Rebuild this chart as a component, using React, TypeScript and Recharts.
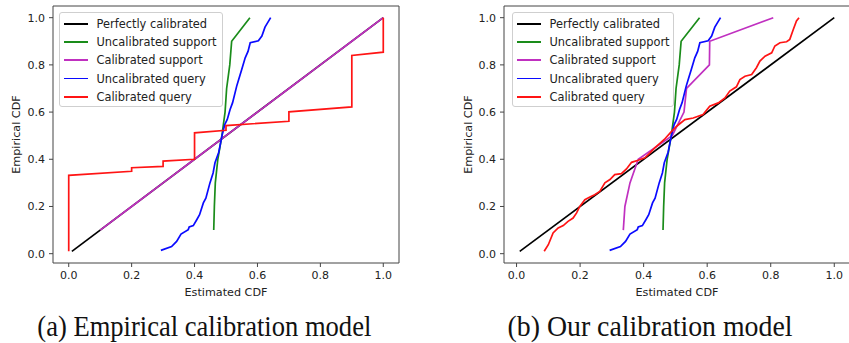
import React from 'react';
import { LineChart, Line, XAxis, YAxis, ReferenceLine } from 'recharts';

// ---------- data ----------
const tickValues = [0, 0.2, 0.4, 0.6, 0.8, 1.0];

const perfectX = [0.01, 1.0];
const perfectY = [0.01, 1.0];

const uncalSupportX = [0.461, 0.463, 0.466, 0.474, 0.487, 0.497, 0.502, 0.512, 0.518, 0.576];
const uncalSupportY = [0.1, 0.2, 0.3, 0.4, 0.5, 0.6, 0.7, 0.8, 0.9, 1.0];

const uncalQueryX = [0.293, 0.327, 0.343, 0.357, 0.38, 0.383, 0.396, 0.407, 0.416, 0.428, 0.436, 0.449, 0.459, 0.465, 0.477, 0.487, 0.496, 0.504, 0.513, 0.521, 0.534, 0.542, 0.55, 0.561, 0.57, 0.577, 0.603, 0.614, 0.624, 0.642];
const uncalQueryY = [0.014, 0.03, 0.052, 0.083, 0.102, 0.113, 0.119, 0.144, 0.165, 0.215, 0.235, 0.3, 0.342, 0.385, 0.43, 0.498, 0.547, 0.569, 0.611, 0.64, 0.71, 0.745, 0.78, 0.83, 0.857, 0.894, 0.902, 0.922, 0.96, 1.0];

// (a) Empirical calibration model
const calSupportAX = [0.1, 0.2, 0.3, 0.4, 0.5, 0.6, 0.7, 0.8, 0.9, 1.0];
const calSupportAY = [0.1, 0.2, 0.3, 0.4, 0.5, 0.6, 0.7, 0.8, 0.9, 1.0];
const calQueryAX = [0.0, 0.0, 0.2, 0.2, 0.3, 0.3, 0.4, 0.4, 0.5, 0.5, 0.7, 0.7, 0.9, 0.9, 1.0, 1.0];
const calQueryAY = [0.01, 0.332, 0.349, 0.364, 0.37, 0.392, 0.4, 0.512, 0.523, 0.543, 0.561, 0.601, 0.622, 0.84, 0.854, 1.0];

// (b) Our calibration model
const calSupportBX = [0.336, 0.341, 0.357, 0.383, 0.49, 0.527, 0.535, 0.607, 0.608, 0.808];
const calSupportBY = [0.1, 0.2, 0.3, 0.4, 0.5, 0.6, 0.7, 0.8, 0.9, 1.0];
const calQueryBX = [0.087, 0.1, 0.115, 0.131, 0.147, 0.162, 0.178, 0.189, 0.199, 0.215, 0.231, 0.246, 0.262, 0.278, 0.294, 0.309, 0.33, 0.346, 0.362, 0.383, 0.404, 0.42, 0.435, 0.451, 0.465, 0.483, 0.504, 0.53, 0.556, 0.587, 0.608, 0.635, 0.656, 0.671, 0.692, 0.703, 0.719, 0.74, 0.755, 0.766, 0.782, 0.803, 0.813, 0.829, 0.85, 0.86, 0.871, 0.881, 0.889];
const calQueryBY = [0.01, 0.038, 0.088, 0.109, 0.119, 0.137, 0.151, 0.173, 0.2, 0.229, 0.24, 0.25, 0.264, 0.3, 0.314, 0.335, 0.339, 0.359, 0.387, 0.396, 0.406, 0.427, 0.448, 0.467, 0.484, 0.511, 0.54, 0.568, 0.575, 0.59, 0.625, 0.639, 0.66, 0.689, 0.707, 0.738, 0.752, 0.759, 0.788, 0.816, 0.837, 0.851, 0.88, 0.894, 0.898, 0.908, 0.95, 0.986, 1.0];

const seriesNames = ['Perfectly calibrated', 'Uncalibrated support', 'Calibrated support', 'Uncalibrated query', 'Calibrated query'];
const seriesColors = ['#000000', '#1a8c1a', '#c030c0', '#0a0aff', '#ff1414'];

const captions = ['(a) Empirical calibration model', '(b) Our calibration model'];
const xLabel = 'Estimated CDF';
const yLabel = 'Empirical CDF';

const zip = (xs: number[], ys: number[]) => xs.map((x, i) => ({ x, y: ys[i] }));

const FONT = '"DejaVu Sans", Verdana, sans-serif';
const AXIS_COLOR = '#444';
const TEXT_COLOR = '#222';

type PanelProps = {
  left: number;
  width: number;
  yAxisWidth: number;
  marginRight: number;
  xDomain: [number, number];
  yDomain: [number, number];
  yLabelOffset: number;
  series: { x: number; y: number }[][];
  legendLeft: number;
  legendWidth: number;
};

const Legend2 = ({ left, width }: { left: number; width: number }) => (
  <div
    style={{
      position: 'absolute',
      left,
      top: 12,
      width,
      height: 95,
      boxSizing: 'border-box',
      border: '1px solid #cfcfcf',
      borderRadius: 3,
      background: 'rgba(255,255,255,0.85)',
      fontFamily: FONT,
      fontSize: 11.4,
      color: TEXT_COLOR,
      paddingTop: 1.5,
    }}
  >
    {seriesNames.map((n, i) => (
      <div key={n} style={{ height: 18.3, display: 'flex', alignItems: 'center', whiteSpace: 'nowrap' }}>
        <div style={{ width: 24.5, height: 1.8, background: seriesColors[i], marginLeft: 3.5, marginRight: 8.5 }} />
        <span>{n}</span>
      </div>
    ))}
  </div>
);

const Panel = (p: PanelProps) => {
  const tickStyle = { fontSize: 11, fill: TEXT_COLOR, fontFamily: FONT };
  return (
    <div style={{ position: 'absolute', left: p.left, top: 0 }}>
      <LineChart
        width={p.width}
        height={300}
        margin={{ top: 6, right: p.marginRight, bottom: 0, left: 0 }}
      >
        <XAxis
          type="number"
          dataKey="x"
          domain={p.xDomain}
          allowDataOverflow
          ticks={tickValues}
          tickFormatter={(v: number) => v.toFixed(1)}
          height={37}
          tickSize={4}
          tickMargin={4}
          tick={tickStyle}
          stroke={AXIS_COLOR}
          axisLine={{ stroke: AXIS_COLOR, strokeWidth: 1 }}
          tickLine={{ stroke: AXIS_COLOR }}
          label={(lp: any) => {
            const vb = lp.viewBox || {};
            return (
              <text
                x={vb.x + vb.width / 2}
                y={vb.y + 29.7}
                textAnchor="middle"
                dominantBaseline="central"
                style={{ fontSize: 11.2, fontFamily: FONT, fill: TEXT_COLOR }}
              >
                {xLabel}
              </text>
            );
          }}
        />
        <YAxis
          type="number"
          dataKey="y"
          domain={p.yDomain}
          allowDataOverflow
          ticks={tickValues}
          tickFormatter={(v: number) => v.toFixed(1)}
          width={p.yAxisWidth}
          tickSize={4}
          tickMargin={4}
          tick={tickStyle}
          stroke={AXIS_COLOR}
          axisLine={{ stroke: AXIS_COLOR, strokeWidth: 1 }}
          tickLine={{ stroke: AXIS_COLOR }}
          label={(lp: any) => {
            const vb = lp.viewBox || {};
            const cx = vb.x + p.yLabelOffset;
            const cy = vb.y + vb.height / 2;
            return (
              <text
                x={cx}
                y={cy}
                transform={`rotate(-90 ${cx} ${cy})`}
                textAnchor="middle"
                dominantBaseline="central"
                style={{ fontSize: 11.2, fontFamily: FONT, fill: TEXT_COLOR }}
              >
                {yLabel}
              </text>
            );
          }}
        />
        {/* top and right frame lines at the domain limits */}
        <ReferenceLine y={p.yDomain[1]} stroke={AXIS_COLOR} strokeWidth={1} ifOverflow="visible" />
        <ReferenceLine x={p.xDomain[1]} stroke={AXIS_COLOR} strokeWidth={1} ifOverflow="visible" />
        {p.series.map((d, i) => (
          <Line
            key={seriesNames[i]}
            name={seriesNames[i]}
            data={d}
            dataKey="y"
            type="linear"
            stroke={seriesColors[i]}
            strokeWidth={1.7}
            dot={false}
            activeDot={false}
            isAnimationActive={false}
          />
        ))}
      </LineChart>
      <Legend2 left={p.legendLeft} width={p.legendWidth} />
    </div>
  );
};

export default function App() {
  const seriesA = [
    zip(perfectX, perfectY),
    zip(uncalSupportX, uncalSupportY),
    zip(calSupportAX, calSupportAY),
    zip(uncalQueryX, uncalQueryY),
    zip(calQueryAX, calQueryAY),
  ];
  const seriesB = [
    zip(perfectX, perfectY),
    zip(uncalSupportX, uncalSupportY),
    zip(calSupportBX, calSupportBY),
    zip(uncalQueryX, uncalQueryY),
    zip(calQueryBX, calQueryBY),
  ];
  const capStyle = { fontFamily: '"Liberation Serif", "Times New Roman", serif', fontSize: 29, fill: '#111' };
  return (
    <div
      style={{
        position: 'absolute',
        left: 0,
        top: 0,
        width: 849,
        height: 343,
        overflow: 'hidden',
        background: '#fff',
      }}
    >
      <Panel
        left={0}
        width={425}
        yAxisWidth={53}
        marginRight={26}
        xDomain={[-0.05, 1.05]}
        yDomain={[-0.0395, 1.0495]}
        yLabelOffset={16.7}
        series={seriesA}
        legendLeft={59}
        legendWidth={164}
      />
      <Panel
        left={425}
        width={425}
        yAxisWidth={79}
        marginRight={0}
        xDomain={[-0.0395, 1.0495]}
        yDomain={[-0.0395, 1.0495]}
        yLabelOffset={43.3}
        series={seriesB}
        legendLeft={87}
        legendWidth={162}
      />
      <svg width={849} height={343} style={{ position: 'absolute', left: 0, top: 0, pointerEvents: 'none' }}>
        <text x={37.3} y={335.5} textLength={334} lengthAdjust="spacingAndGlyphs" style={capStyle}>
          {captions[0]}
        </text>
        <text x={507.5} y={335.5} textLength={285} lengthAdjust="spacingAndGlyphs" style={capStyle}>
          {captions[1]}
        </text>
      </svg>
    </div>
  );
}
